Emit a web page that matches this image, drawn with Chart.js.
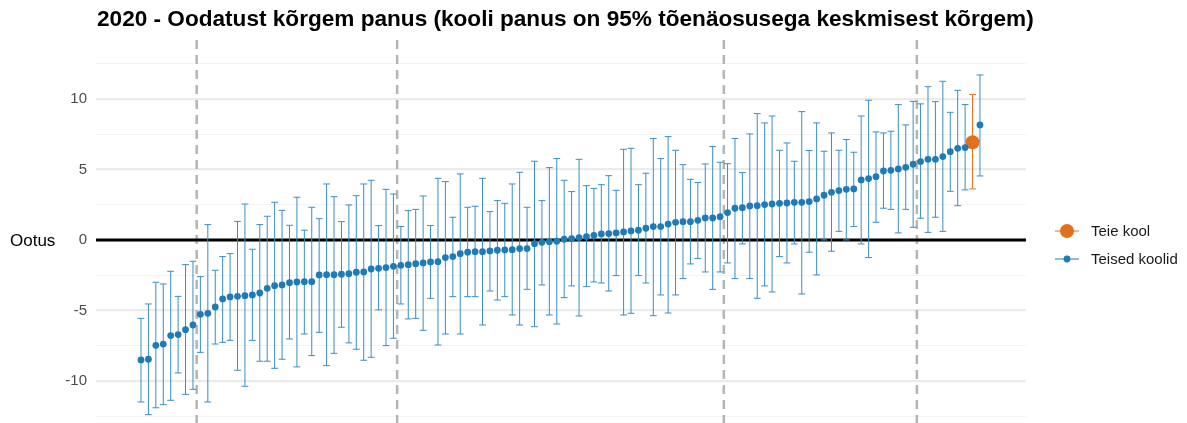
<!DOCTYPE html>
<html><head><meta charset="utf-8">
<script src="https://cdn.jsdelivr.net/npm/chart.js@4/dist/chart.umd.min.js"></script>
<style>html,body{margin:0;padding:0;background:#fff;overflow:hidden}</style>
</head><body>
<canvas id="c" width="1187" height="423" style="width:1187px;height:423px;display:block"></canvas>
<script>
const titleText = "2020 - Oodatust kõrgem panus (kooli panus on 95% tõenäosusega keskmisest kõrgem)";
const seriesNames = ["Teie kool", "Teised koolid"];
const expectationLabel = "Ootus";
const ownSchoolIndex = 112;
const estimate = [-8.51,-8.46,-7.47,-7.38,-6.78,-6.71,-6.36,-6.03,-5.27,-5.2,
-4.75,-4.18,-4.04,-4.0,-3.95,-3.9,-3.76,-3.43,-3.24,-3.19,
-3.03,-2.98,-2.96,-2.96,-2.48,-2.46,-2.46,-2.43,-2.39,-2.29,
-2.27,-2.06,-2.01,-1.96,-1.87,-1.8,-1.75,-1.68,-1.63,-1.56,
-1.54,-1.25,-1.18,-0.97,-0.87,-0.83,-0.83,-0.78,-0.73,-0.71,
-0.69,-0.61,-0.61,-0.26,-0.17,-0.12,-0.09,0.05,0.09,0.17,
0.24,0.33,0.43,0.45,0.5,0.57,0.64,0.69,0.83,0.95,
0.95,1.13,1.25,1.3,1.3,1.39,1.56,1.56,1.65,1.94,
2.25,2.29,2.41,2.43,2.51,2.55,2.6,2.62,2.67,2.67,
2.72,2.91,3.17,3.38,3.5,3.59,3.62,4.26,4.35,4.49,
4.89,4.94,5.04,5.15,5.37,5.56,5.72,5.72,5.91,6.26,
6.5,6.55,6.93,8.16];
const upper = [-5.56,-4.54,-3.0,-3.12,-2.22,-4.0,-1.75,-1.51,-2.6,1.09,
-2.15,-1.18,-0.97,1.32,2.55,-0.66,1.09,1.68,2.67,2.1,
1.04,3.03,0.69,2.32,1.51,3.97,3.07,1.3,2.48,3.14,
3.97,4.23,1.02,3.59,3.26,0.95,2.08,2.17,3.12,1.02,
4.37,4.14,1.61,4.68,2.32,2.39,4.37,2.01,2.79,2.6,
3.97,4.8,2.32,5.58,2.79,5.13,5.77,4.23,3.43,5.72,
3.85,3.66,3.92,4.56,3.52,6.43,6.5,3.92,4.73,7.19,
5.77,7.33,6.36,5.34,4.3,4.07,5.39,6.62,5.51,5.41,
7.19,4.78,7.52,8.96,8.3,8.79,6.36,6.88,5.58,9.1,
6.34,8.3,6.29,7.59,6.36,7.12,6.22,8.79,9.91,7.66,
7.59,7.71,9.6,8.16,9.83,9.65,10.87,9.81,11.25,9.05,
10.61,9.6,10.31,11.7];
const lower = [-11.49,-12.39,-11.9,-11.68,-11.37,-9.43,-10.95,-10.59,-7.97,-11.49,
-7.38,-7.26,-7.12,-9.24,-10.38,-7.12,-8.6,-8.6,-9.1,-8.46,
-7.02,-9.0,-6.67,-8.2,-6.55,-8.91,-8.04,-6.19,-7.3,-7.75,
-8.53,-8.32,-4.96,-7.49,-6.97,-4.54,-5.6,-5.56,-6.41,-4.14,
-7.45,-6.67,-4.02,-6.67,-4.02,-4.02,-6.03,-3.62,-4.26,-4.02,
-5.32,-6.03,-3.5,-6.15,-3.19,-5.32,-5.96,-4.09,-3.26,-5.39,
-3.31,-2.98,-3.05,-3.62,-2.53,-5.32,-5.2,-2.53,-3.05,-5.37,
-3.9,-5.18,-3.9,-2.74,-1.7,-1.32,-2.27,-3.5,-2.27,-1.63,
-2.74,-0.28,-2.74,-4.14,-3.26,-3.69,-1.18,-1.63,-0.28,-3.83,
-0.87,-2.48,0.0,-0.8,0.61,0.0,0.95,-0.28,-1.25,1.25,
2.25,2.17,0.5,2.17,0.9,1.54,0.54,1.61,0.61,3.45,
2.43,3.55,3.62,4.54];
const dividers = [7.5, 34.5, 78.5, 104.5];
const yTickValues = [-12.5,-10,-7.5,-5,-2.5,0,2.5,5,7.5,10,12.5];
const yLabelValues = [-10,-5,0,5,10];

const BLUE = '#1f7bb6', BLUE_BAR = '#3a8ec3', ORANGE = '#e2711f';

const otherPts = [], ownPts = [];
estimate.forEach((v, i) => {
  if (i === ownSchoolIndex) ownPts.push({x: i, y: v});
  else otherPts.push({x: i, y: v});
});

const decor = {
  id: 'decor',
  beforeDatasetsDraw(chart) {
    const {ctx, chartArea: a, scales: {x, y}} = chart;
    ctx.save();
    ctx.strokeStyle = '#b5b5b5';
    ctx.lineWidth = 2.5;
    ctx.setLineDash([9, 6]);
    dividers.forEach(d => {
      const px = x.getPixelForValue(d);
      ctx.beginPath(); ctx.moveTo(px, a.top); ctx.lineTo(px, a.bottom); ctx.stroke();
    });
    ctx.setLineDash([]);
    const y0 = y.getPixelForValue(0);
    ctx.strokeStyle = '#000'; ctx.lineWidth = 3;
    ctx.beginPath(); ctx.moveTo(a.left, y0); ctx.lineTo(a.right, y0); ctx.stroke();
    ctx.lineWidth = 1;
    estimate.forEach((v, i) => {
      const px = x.getPixelForValue(i);
      const pu = y.getPixelForValue(upper[i]);
      const pl = y.getPixelForValue(lower[i]);
      ctx.strokeStyle = i === ownSchoolIndex ? ORANGE : BLUE_BAR;
      ctx.beginPath();
      ctx.moveTo(px, pu); ctx.lineTo(px, pl);
      ctx.moveTo(px - 3.4, pu); ctx.lineTo(px + 3.4, pu);
      ctx.moveTo(px - 3.4, pl); ctx.lineTo(px + 3.4, pl);
      ctx.stroke();
    });
    ctx.restore();
  },
  afterDraw(chart) {
    const {ctx, scales: {y}} = chart;
    ctx.save();
    ctx.fillStyle = '#000';
    ctx.font = 'bold 22.6px "Liberation Sans", Arial, sans-serif';
    ctx.textBaseline = 'alphabetic'; ctx.textAlign = 'left';
    ctx.fillText(titleText, 97, 26);
    ctx.font = '17px "Liberation Sans", Arial, sans-serif';
    ctx.textBaseline = 'middle';
    ctx.fillText(expectationLabel, 10, y.getPixelForValue(0) + 1);
    const items = [
      {name: seriesNames[0], color: ORANGE, r: 7, yy: 231},
      {name: seriesNames[1], color: BLUE, r: 3.4, yy: 259}
    ];
    ctx.font = '15px "Liberation Sans", Arial, sans-serif';
    items.forEach(it => {
      ctx.strokeStyle = it.color; ctx.lineWidth = 1;
      ctx.beginPath(); ctx.moveTo(1055, it.yy); ctx.lineTo(1079, it.yy); ctx.stroke();
      ctx.fillStyle = it.color;
      ctx.beginPath(); ctx.arc(1067, it.yy, it.r, 0, Math.PI * 2); ctx.fill();
      ctx.fillStyle = '#1a1a1a';
      ctx.fillText(it.name, 1091, it.yy + 1);
    });
    ctx.restore();
  }
};

new Chart(document.getElementById('c'), {
  type: 'scatter',
  data: {
    datasets: [
      {label: seriesNames[1], data: otherPts, backgroundColor: BLUE, borderColor: BLUE, borderWidth: 0, pointRadius: 3.4, pointHoverRadius: 3.4},
      {label: seriesNames[0], data: ownPts, backgroundColor: ORANGE, borderColor: ORANGE, borderWidth: 0, pointRadius: 7, pointHoverRadius: 7}
    ]
  },
  options: {
    responsive: false,
    animation: false,
    devicePixelRatio: 1,
    layout: {autoPadding: false, padding: {left: 0, right: 161, top: 40, bottom: 0}},
    plugins: {legend: {display: false}, title: {display: false}, tooltip: {enabled: false}},
    scales: {
      x: {type: 'linear', min: -6.06, max: 119.2, display: false},
      y: {
        type: 'linear', min: -12.98, max: 14.18,
        afterBuildTicks: s => { s.ticks = yTickValues.map(v => ({value: v})); },
        afterFit: s => { s.width = 96; s.paddingTop = 0; s.paddingBottom = 0; },
        border: {display: false},
        grid: {
          drawTicks: false,
          color: c => (c.tick && c.tick.value % 5 === 0) ? '#ebebeb' : '#f3f3f3',
          lineWidth: c => (c.tick && c.tick.value % 5 === 0) ? 2.2 : 1.1
        },
        ticks: {
          padding: 9,
          color: '#4d4d4d',
          font: {size: 15, family: '"Liberation Sans", Arial, sans-serif'},
          callback: v => yLabelValues.includes(v) ? String(v) : ''
        }
      }
    }
  },
  plugins: [decor]
});
</script>
</body></html>
